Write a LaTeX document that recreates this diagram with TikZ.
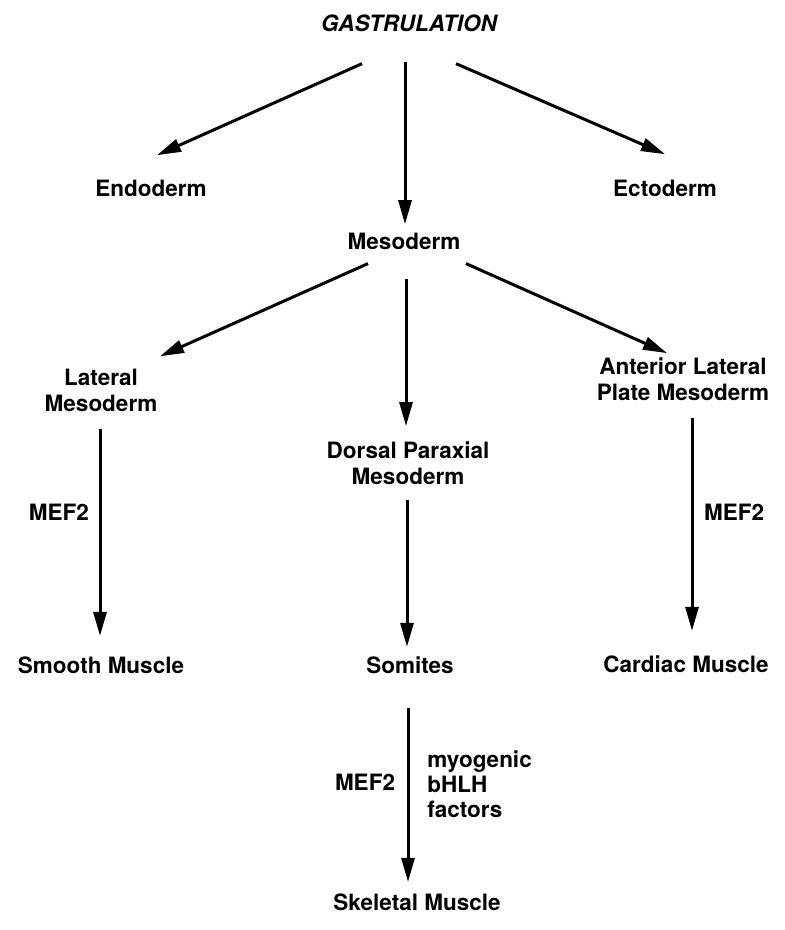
\documentclass[tikz,border=0pt]{standalone}
\usepackage{fontspec}
\setmainfont{TeX Gyre Heros}
\usetikzlibrary{arrows.meta}

\tikzset{
  lbl/.style={inner sep=0pt, font=\bfseries\fontsize{11.25}{13}\selectfont},
  flow/.style={line width=1.5pt, -{Triangle[length=12pt,width=6.5pt]}}
}

\begin{document}
\begin{tikzpicture}[x=0.5pt,y=-0.5pt]
   \useasboundingbox (0,0) rectangle (785,930);
   % stages
   \node[lbl, anchor=base, font=\bfseries\itshape\fontsize{11.25}{13}\selectfont] (gast) at (409,32) {GASTRULATION};
   \node[lbl, anchor=base] (endo) at (151,197) {Endoderm};
   \node[lbl, anchor=base] (ecto) at (665,197) {Ectoderm};
   \node[lbl, anchor=base] (meso) at (404,250) {Mesoderm};
   \node[lbl, align=center] (lat) at (101,390) {Lateral\\Mesoderm};
   \node[lbl, align=center] (dors) at (408,463) {Dorsal Paraxial\\Mesoderm};
   \node[lbl, align=center] (ant) at (683,379) {Anterior Lateral\\Plate Mesoderm};
   \node[lbl, anchor=base] (smooth) at (101,673) {Smooth Muscle};
   \node[lbl, anchor=base] (somites) at (410,673) {Somites};
   \node[lbl, anchor=base] (cardiac) at (686,672) {Cardiac Muscle};
   \node[lbl, anchor=base] (skel) at (417,910) {Skeletal Muscle};
   % factors
   \node[lbl] (mefL) at (59,512) {MEF2};
   \node[lbl] (mefR) at (734,512) {MEF2};
   \node[lbl] (mefS) at (365,782) {MEF2};
   \node[lbl, anchor=west, align=left, font=\bfseries\fontsize{11.25}{12.5}\selectfont] (bhlh) at (427,784) {myogenic\\bHLH\\factors};
   % arrows
   \draw[flow] ([shift={(-47,31)}]gast.south) -- ([shift={(6,-25)}]endo.north);
   \draw[flow] ([shift={(-4,29)}]gast.south) -- ([shift={(1,-9)}]meso.north);
   \draw[flow] ([shift={(47,31)}]gast.south) -- ([shift={(0,-26)}]ecto.north);
   \draw[flow] ([shift={(-36,13)}]meso.south) -- ([shift={(59,-12)}]lat.north);
   \draw[flow] ([shift={(2,28)}]meso.south) -- ([shift={(-2,-15)}]dors.north);
   \draw[flow] ([shift={(62,13)}]meso.south) -- ([shift={(-16,-4)}]ant.north);
   \draw[flow] ([shift={(-1,17)}]lat.south) -- ([shift={(-1,-20)}]smooth.north);
   \draw[flow] ([shift={(-1,15)}]dors.south) -- ([shift={(-3,-9)}]somites.north);
   \draw[flow] ([shift={(9,17)}]ant.south) -- ([shift={(6,-24)}]cardiac.north);
   \draw[flow] ([shift={(-2,34)}]somites.south) -- ([shift={(-9,-11)}]skel.north);
\end{tikzpicture}
\end{document}
